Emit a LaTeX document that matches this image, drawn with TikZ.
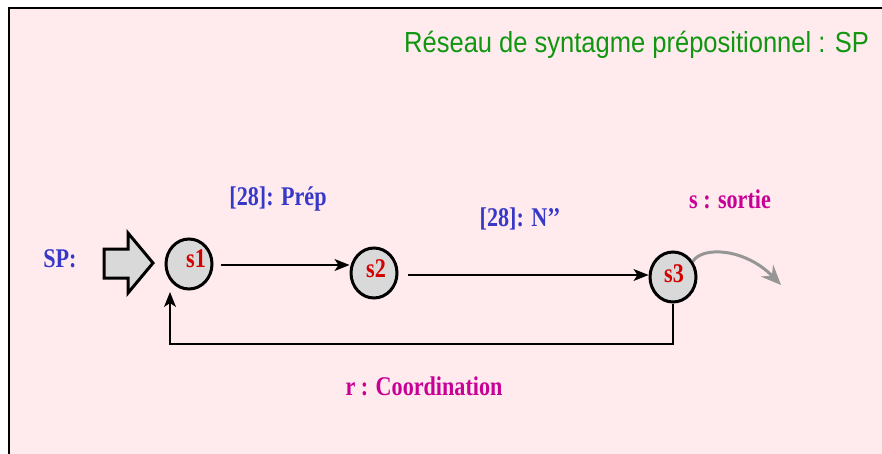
\documentclass[tikz,border=0pt]{standalone}
\usepackage{fontspec}
\setmainfont[FakeStretch=0.82]{Liberation Serif}
\newfontfamily\titlefont[FakeStretch=0.88]{Liberation Sans}
\usetikzlibrary{shapes.geometric,arrows.meta,calc}
\definecolor{bgpink}{RGB}{255,235,238}
\definecolor{titlegreen}{RGB}{16,150,16}
\definecolor{lblue}{RGB}{55,55,200}
\definecolor{sred}{RGB}{210,0,0}
\definecolor{smag}{RGB}{200,0,150}
\definecolor{cgrey}{RGB}{217,217,217}
\definecolor{agrey}{RGB}{150,150,150}
\begin{document}
\begin{tikzpicture}[x=1pt,y=-1pt,
  state/.style={ellipse,draw=black,line width=3pt,fill=cgrey,inner sep=0pt,minimum width=46pt,minimum height=50pt},
  slabel/.style={anchor=base,text=sred,font=\fontsize{27}{30}\selectfont\bfseries},
  blab/.style={anchor=base,text=lblue,font=\fontsize{27}{30}\selectfont\bfseries},
  mlab/.style={anchor=base,text=smag,font=\fontsize{27}{30}\selectfont\bfseries},
  arr/.style={line width=1.4pt,-{Stealth[length=15pt,width=12pt,inset=4pt]}},
  exitarr/.style={line width=3pt,draw=agrey,-{Stealth[length=20pt,width=17pt,inset=7pt]}}
]
\useasboundingbox (0,0) rectangle (882,454);
\fill[white] (0,0) rectangle (882,454);
\draw[line width=2pt,fill=bgpink] (9,8) rectangle (900,480);

\node[anchor=base west,text=titlegreen,font=\titlefont\fontsize{29}{32}\selectfont,inner sep=0pt] (title) at (404,53) {Réseau de syntagme prépositionnel : SP};

\node[state] (s1) at (189,264) {};
\node[state] (s2) at (374,273) {};
\node[state] (s3) at (673,277) {};
\node[slabel] (s1l) at (196,267) {s1};
\node[slabel] (s2l) at (376,277) {s2};
\node[slabel] (s3l) at (674,282) {s3};

\node[blab] (sp) at (60,267) {SP:};
\node[blab] (l12) at (278,206) {[28]: Prép};
\node[blab] (l23) at (520,226) {[28]: N’’};
\node[mlab] (ls) at (730,209) {s : sortie};
\node[mlab] (lr) at (424,395) {r : Coordination};

\draw[line width=3pt,fill=cgrey,line join=miter]
  (104,249) -- (128,249) -- (128,233) -- (153,263) -- (128,293) -- (128,278) -- (104,278) -- cycle;

\coordinate (e1) at (221,265);
\coordinate (e2) at (408,275);
\draw[arr] (e1) -- (s2.west |- e1);
\draw[arr] (e2) -- (s3.west |- e2);

\coordinate (s1in) at (170,292);
\coordinate (fb) at (673,344);
\draw[arr] (s3.south) -- (fb) -| (s1in);

\coordinate (exit) at (781,285);
\draw[exitarr] (s3.38) .. controls (702,246) and (745,248) .. (exit);
\end{tikzpicture}
\end{document}
